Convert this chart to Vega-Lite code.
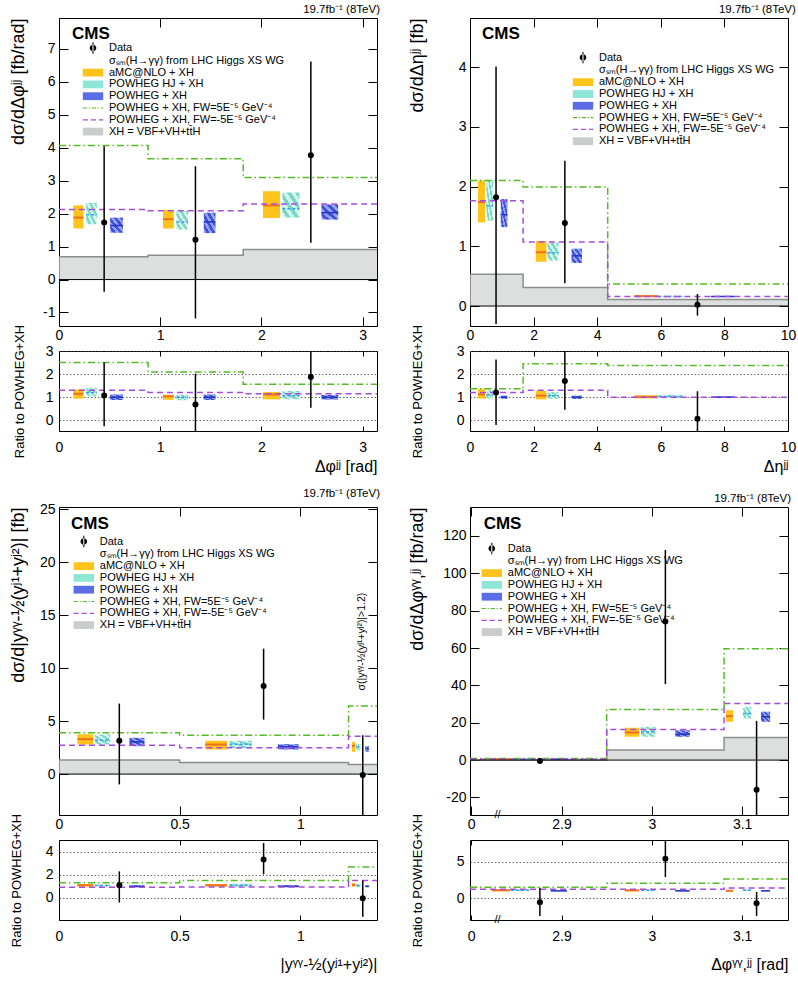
{
"$schema":"https://vega.github.io/schema/vega-lite/v6.json",
"padding":{"left":8,"top":3,"right":5,"bottom":3},
"params":[
 {"name":"ghj","value":{"gradient":"linear","x1":0,"y1":1,"x2":1,"y2":0,"stops":[{"offset":0,"color":"#d0f6ee"},{"offset":0.125,"color":"#d0f6ee"},{"offset":0.125,"color":"#7ad9c6"},{"offset":0.25,"color":"#7ad9c6"},{"offset":0.25,"color":"#d0f6ee"},{"offset":0.375,"color":"#d0f6ee"},{"offset":0.375,"color":"#7ad9c6"},{"offset":0.5,"color":"#7ad9c6"},{"offset":0.5,"color":"#d0f6ee"},{"offset":0.625,"color":"#d0f6ee"},{"offset":0.625,"color":"#7ad9c6"},{"offset":0.75,"color":"#7ad9c6"},{"offset":0.75,"color":"#d0f6ee"},{"offset":0.875,"color":"#d0f6ee"},{"offset":0.875,"color":"#7ad9c6"},{"offset":1,"color":"#7ad9c6"}]}},
 {"name":"gpw","value":{"gradient":"linear","x1":0,"y1":1,"x2":1,"y2":0,"stops":[{"offset":0,"color":"#93a2f2"},{"offset":0.125,"color":"#93a2f2"},{"offset":0.125,"color":"#3f52d9"},{"offset":0.25,"color":"#3f52d9"},{"offset":0.25,"color":"#93a2f2"},{"offset":0.375,"color":"#93a2f2"},{"offset":0.375,"color":"#3f52d9"},{"offset":0.5,"color":"#3f52d9"},{"offset":0.5,"color":"#93a2f2"},{"offset":0.625,"color":"#93a2f2"},{"offset":0.625,"color":"#3f52d9"},{"offset":0.75,"color":"#3f52d9"},{"offset":0.75,"color":"#93a2f2"},{"offset":0.875,"color":"#93a2f2"},{"offset":0.875,"color":"#3f52d9"},{"offset":1,"color":"#3f52d9"}]}}
],
"config":{
 "font":"Liberation Sans",
 "view":{"stroke":"#000","strokeWidth":1},
 "axis":{"domain":false,"ticks":false,"labelFont":"Liberation Sans","labelFontSize":14,"labelColor":"#000","titleFont":"Liberation Sans","titleFontSize":18,"titleFontWeight":"normal","titleColor":"#000","labelOverlap":false,"labelFlush":false,"labelBound":false},
 "title":{"font":"Liberation Sans","fontSize":11.5,"fontWeight":"normal","color":"#000","anchor":"end","offset":3},
 "legend":{"labelFont":"Liberation Sans","labelFontSize":11,"labelColor":"#000","symbolSize":144,"rowPadding":0.8,"labelOffset":10,"symbolStrokeWidth":0,"padding":0,"labelLimit":400,"symbolOpacity":1},
 "range":{"category":["#000000","rgba(0,0,0,0)","#ffc31a","#8fe6d6","#5a6ce6","#55bb22","#a64bdc","#c9cecc"],
  "symbol":["M-0.55,0A0.55,0.55,0,1,0,0.55,0A0.55,0.55,0,1,0,-0.55,0ZM-0.09,-0.95H0.09V0.95H-0.09Z","M-0.1,-0.1H0.1V0.1H-0.1Z","M-1.7,-0.65H1.7V0.65H-1.7Z","M-1.7,-0.65H1.7V0.65H-1.7Z","M-1.7,-0.65H1.7V0.65H-1.7Z","M-1.7,-0.1H-1V0.1H-1.7ZM-0.7,-0.1H-0.5V0.1H-0.7ZM-0.2,-0.1H0.5V0.1H-0.2ZM0.8,-0.1H1V0.1H0.8ZM1.3,-0.1H1.7V0.1H1.3Z","M-1.7,-0.1H-0.85V0.1H-1.7ZM-0.35,-0.1H0.5V0.1H-0.35ZM1,-0.1H1.7V0.1H1Z","M-1.7,-0.65H1.7V0.65H-1.7Z"]}
},
"datasets":{
 "steps":[
  {"p":"TL","s":"X","x":0,"y":0.69},{"p":"TL","s":"X","x":0.88,"y":0.74},{"p":"TL","s":"X","x":1.82,"y":0.91},{"p":"TL","s":"X","x":3.1416,"y":0.91},
  {"p":"TL","s":"G","x":0,"y":4.07},{"p":"TL","s":"G","x":0.88,"y":3.67},{"p":"TL","s":"G","x":1.82,"y":3.10},{"p":"TL","s":"G","x":3.1416,"y":3.10},
  {"p":"TL","s":"P","x":0,"y":2.13},{"p":"TL","s":"P","x":0.88,"y":2.09},{"p":"TL","s":"P","x":1.82,"y":2.29},{"p":"TL","s":"P","x":3.1416,"y":2.29},
  {"p":"TLr","s":"G","x":0,"y":2.50},{"p":"TLr","s":"G","x":0.88,"y":2.09},{"p":"TLr","s":"G","x":1.82,"y":1.56},{"p":"TLr","s":"G","x":3.1416,"y":1.56},
  {"p":"TLr","s":"P","x":0,"y":1.30},{"p":"TLr","s":"P","x":0.88,"y":1.21},{"p":"TLr","s":"P","x":1.82,"y":1.15},{"p":"TLr","s":"P","x":3.1416,"y":1.15},
  {"p":"TR","s":"X","x":0,"y":0.53},{"p":"TR","s":"X","x":1.67,"y":0.31},{"p":"TR","s":"X","x":4.33,"y":0.11},{"p":"TR","s":"X","x":10,"y":0.11},
  {"p":"TR","s":"G","x":0,"y":2.10},{"p":"TR","s":"G","x":1.67,"y":1.99},{"p":"TR","s":"G","x":4.33,"y":0.37},{"p":"TR","s":"G","x":10,"y":0.37},
  {"p":"TR","s":"P","x":0,"y":1.76},{"p":"TR","s":"P","x":1.67,"y":1.07},{"p":"TR","s":"P","x":4.33,"y":0.16},{"p":"TR","s":"P","x":10,"y":0.16},
  {"p":"TRr","s":"G","x":0,"y":1.37},{"p":"TRr","s":"G","x":1.67,"y":2.45},{"p":"TRr","s":"G","x":4.33,"y":2.37},{"p":"TRr","s":"G","x":10,"y":2.37},
  {"p":"TRr","s":"P","x":0,"y":1.20},{"p":"TRr","s":"P","x":1.67,"y":1.30},{"p":"TRr","s":"P","x":4.33,"y":1.00},{"p":"TRr","s":"P","x":10,"y":1.00},
  {"p":"BL","s":"X","x":0,"y":1.32},{"p":"BL","s":"X","x":0.5,"y":1.10},{"p":"BL","s":"X","x":1.2,"y":0.91},{"p":"BL","s":"X","x":1.318,"y":0.91},
  {"p":"BL","s":"G","x":0,"y":3.89},{"p":"BL","s":"G","x":0.5,"y":3.67},{"p":"BL","s":"G","x":1.2,"y":6.43},{"p":"BL","s":"G","x":1.318,"y":6.43},
  {"p":"BL","s":"P","x":0,"y":2.73},{"p":"BL","s":"P","x":0.5,"y":2.48},{"p":"BL","s":"P","x":1.2,"y":3.58},{"p":"BL","s":"P","x":1.318,"y":3.58},
  {"p":"BLr","s":"G","x":0,"y":1.31},{"p":"BLr","s":"G","x":0.5,"y":1.51},{"p":"BLr","s":"G","x":1.2,"y":2.66},{"p":"BLr","s":"G","x":1.318,"y":2.66},
  {"p":"BLr","s":"P","x":0,"y":0.91},{"p":"BLr","s":"P","x":0.5,"y":0.94},{"p":"BLr","s":"P","x":1.2,"y":1.51},{"p":"BLr","s":"P","x":1.318,"y":1.51},
  {"p":"BR","s":"X","x":2.7986,"y":0.1},{"p":"BR","s":"X","x":2.95,"y":5.35},{"p":"BR","s":"X","x":3.08,"y":12.1},{"p":"BR","s":"X","x":3.1508,"y":12.1},
  {"p":"BR","s":"G","x":2.7986,"y":0.9},{"p":"BR","s":"G","x":2.95,"y":27.1},{"p":"BR","s":"G","x":3.08,"y":59.6},{"p":"BR","s":"G","x":3.1508,"y":59.6},
  {"p":"BR","s":"P","x":2.7986,"y":0.5},{"p":"BR","s":"P","x":2.95,"y":16.4},{"p":"BR","s":"P","x":3.08,"y":30.3},{"p":"BR","s":"P","x":3.1508,"y":30.3},
  {"p":"BRr","s":"G","x":2.7986,"y":1.49},{"p":"BRr","s":"G","x":2.95,"y":2.03},{"p":"BRr","s":"G","x":3.08,"y":2.61},{"p":"BRr","s":"G","x":3.1508,"y":2.61},
  {"p":"BRr","s":"P","x":2.7986,"y":1.22},{"p":"BRr","s":"P","x":2.95,"y":1.22},{"p":"BRr","s":"P","x":3.08,"y":1.40},{"p":"BRr","s":"P","x":3.1508,"y":1.40}
 ],
 "boxes":[
  {"p":"TL","m":"a","x1":0.142,"x2":0.241,"lo":1.55,"c":1.88,"hi":2.25},{"p":"TL","m":"a","x1":1.027,"x2":1.133,"lo":1.55,"c":1.83,"hi":2.12},{"p":"TL","m":"a","x1":2.015,"x2":2.184,"lo":1.87,"c":2.25,"hi":2.68},
  {"p":"TL","m":"h","x1":0.268,"x2":0.373,"lo":1.68,"c":1.97,"hi":2.33},{"p":"TL","m":"h","x1":1.160,"x2":1.275,"lo":1.52,"c":1.75,"hi":2.08},{"p":"TL","m":"h","x1":2.207,"x2":2.375,"lo":1.88,"c":2.15,"hi":2.64},
  {"p":"TL","m":"w","x1":0.505,"x2":0.631,"lo":1.42,"c":1.64,"hi":1.88},{"p":"TL","m":"w","x1":1.430,"x2":1.546,"lo":1.41,"c":1.75,"hi":2.03},{"p":"TL","m":"w","x1":2.593,"x2":2.758,"lo":1.82,"c":2.03,"hi":2.28},
  {"p":"TLr","m":"a","x1":0.142,"x2":0.241,"lo":0.94,"c":1.15,"hi":1.34},{"p":"TLr","m":"a","x1":1.027,"x2":1.133,"lo":0.89,"c":1.04,"hi":1.11},{"p":"TLr","m":"a","x1":2.015,"x2":2.184,"lo":0.91,"c":1.12,"hi":1.23},
  {"p":"TLr","m":"h","x1":0.268,"x2":0.373,"lo":1.04,"c":1.20,"hi":1.41},{"p":"TLr","m":"h","x1":1.160,"x2":1.275,"lo":0.87,"c":1.00,"hi":1.11},{"p":"TLr","m":"h","x1":2.207,"x2":2.375,"lo":0.91,"c":1.06,"hi":1.27},
  {"p":"TLr","m":"w","x1":0.505,"x2":0.631,"lo":0.88,"c":1.0,"hi":1.12},{"p":"TLr","m":"w","x1":1.430,"x2":1.546,"lo":0.88,"c":1.0,"hi":1.12},{"p":"TLr","m":"w","x1":2.593,"x2":2.758,"lo":0.9,"c":1.0,"hi":1.1},
  {"p":"TR","m":"a","x1":0.252,"x2":0.473,"lo":1.40,"c":1.74,"hi":2.10},{"p":"TR","m":"a","x1":2.069,"x2":2.405,"lo":0.74,"c":0.90,"hi":1.09},{"p":"TR","m":"a","x1":5.168,"x2":5.903,"lo":0.15,"c":0.165,"hi":0.18},
  {"p":"TR","m":"h","x1":0.515,"x2":0.725,"lo":1.43,"c":1.68,"hi":2.10},{"p":"TR","m":"h","x1":2.437,"x2":2.784,"lo":0.76,"c":0.89,"hi":1.06},{"p":"TR","m":"h","x1":5.924,"x2":6.691,"lo":0.15,"c":0.16,"hi":0.17},
  {"p":"TR","m":"w","x1":0.966,"x2":1.176,"lo":1.32,"c":1.53,"hi":1.79},{"p":"TR","m":"w","x1":3.193,"x2":3.519,"lo":0.72,"c":0.84,"hi":0.96},{"p":"TR","m":"w","x1":7.584,"x2":8.319,"lo":0.15,"c":0.16,"hi":0.17},
  {"p":"TRr","m":"a","x1":0.252,"x2":0.473,"lo":0.94,"c":1.13,"hi":1.37},{"p":"TRr","m":"a","x1":2.069,"x2":2.405,"lo":0.91,"c":1.07,"hi":1.27},{"p":"TRr","m":"a","x1":5.168,"x2":5.903,"lo":0.95,"c":1.02,"hi":1.08},
  {"p":"TRr","m":"h","x1":0.515,"x2":0.725,"lo":0.95,"c":1.10,"hi":1.30},{"p":"TRr","m":"h","x1":2.437,"x2":2.784,"lo":0.93,"c":1.06,"hi":1.22},{"p":"TRr","m":"h","x1":5.924,"x2":6.691,"lo":0.97,"c":1.03,"hi":1.09},
  {"p":"TRr","m":"w","x1":0.966,"x2":1.176,"lo":0.93,"c":1.0,"hi":1.07},{"p":"TRr","m":"w","x1":3.193,"x2":3.519,"lo":0.93,"c":1.0,"hi":1.07},{"p":"TRr","m":"w","x1":7.584,"x2":8.319,"lo":0.97,"c":1.0,"hi":1.03},
  {"p":"BL","m":"a","x1":0.076,"x2":0.142,"lo":2.79,"c":3.29,"hi":3.76},{"p":"BL","m":"a","x1":0.606,"x2":0.696,"lo":2.32,"c":2.79,"hi":3.14},{"p":"BL","m":"a","x1":1.214,"x2":1.228,"lo":2.10,"c":2.67,"hi":3.04},
  {"p":"BL","m":"h","x1":0.149,"x2":0.212,"lo":2.79,"c":3.20,"hi":3.73},{"p":"BL","m":"h","x1":0.707,"x2":0.799,"lo":2.42,"c":2.82,"hi":3.14},{"p":"BL","m":"h","x1":1.232,"x2":1.249,"lo":2.25,"c":2.55,"hi":2.85},
  {"p":"BL","m":"w","x1":0.292,"x2":0.354,"lo":2.63,"c":3.04,"hi":3.42},{"p":"BL","m":"w","x1":0.907,"x2":0.993,"lo":2.32,"c":2.57,"hi":2.82},{"p":"BL","m":"w","x1":1.270,"x2":1.284,"lo":2.10,"c":2.40,"hi":2.65},
  {"p":"BLr","m":"a","x1":0.076,"x2":0.142,"lo":0.98,"c":1.09,"hi":1.2},{"p":"BLr","m":"a","x1":0.606,"x2":0.696,"lo":0.98,"c":1.09,"hi":1.2},{"p":"BLr","m":"a","x1":1.214,"x2":1.228,"lo":0.95,"c":1.12,"hi":1.28},
  {"p":"BLr","m":"h","x1":0.149,"x2":0.212,"lo":0.98,"c":1.06,"hi":1.15},{"p":"BLr","m":"h","x1":0.707,"x2":0.799,"lo":0.98,"c":1.10,"hi":1.22},{"p":"BLr","m":"h","x1":1.232,"x2":1.249,"lo":0.95,"c":1.06,"hi":1.2},
  {"p":"BLr","m":"w","x1":0.292,"x2":0.354,"lo":0.92,"c":1.0,"hi":1.08},{"p":"BLr","m":"w","x1":0.907,"x2":0.993,"lo":0.92,"c":1.0,"hi":1.08},{"p":"BLr","m":"w","x1":1.270,"x2":1.284,"lo":0.92,"c":1.0,"hi":1.08},
  {"p":"BR","m":"a","x1":2.823,"x2":2.843,"lo":0.2,"c":0.5,"hi":0.8},{"p":"BR","m":"a","x1":2.970,"x2":2.986,"lo":12.5,"c":14.8,"hi":17.3},{"p":"BR","m":"a","x1":3.082,"x2":3.090,"lo":20.5,"c":23.5,"hi":26.7},
  {"p":"BR","m":"h","x1":2.844,"x2":2.864,"lo":0.2,"c":0.5,"hi":0.8},{"p":"BR","m":"h","x1":2.988,"x2":3.004,"lo":12.5,"c":15.0,"hi":17.8},{"p":"BR","m":"h","x1":3.101,"x2":3.110,"lo":22.3,"c":25.0,"hi":28.5},
  {"p":"BR","m":"w","x1":2.888,"x2":2.906,"lo":0.2,"c":0.45,"hi":0.7},{"p":"BR","m":"w","x1":3.026,"x2":3.042,"lo":12.5,"c":13.9,"hi":16.0},{"p":"BR","m":"w","x1":3.121,"x2":3.131,"lo":20.5,"c":23.2,"hi":25.9},
  {"p":"BRr","m":"a","x1":2.823,"x2":2.843,"lo":0.95,"c":1.08,"hi":1.2},{"p":"BRr","m":"a","x1":2.970,"x2":2.986,"lo":0.95,"c":1.07,"hi":1.18},{"p":"BRr","m":"a","x1":3.082,"x2":3.090,"lo":0.9,"c":1.01,"hi":1.12},
  {"p":"BRr","m":"h","x1":2.844,"x2":2.864,"lo":0.98,"c":1.08,"hi":1.18},{"p":"BRr","m":"h","x1":2.988,"x2":3.004,"lo":0.96,"c":1.08,"hi":1.2},{"p":"BRr","m":"h","x1":3.101,"x2":3.110,"lo":1.0,"c":1.08,"hi":1.22},
  {"p":"BRr","m":"w","x1":2.888,"x2":2.906,"lo":0.95,"c":1.0,"hi":1.05},{"p":"BRr","m":"w","x1":3.026,"x2":3.042,"lo":0.95,"c":1.0,"hi":1.05},{"p":"BRr","m":"w","x1":3.121,"x2":3.131,"lo":0.95,"c":1.0,"hi":1.1}
 ],
 "pts":[
  {"p":"TL","x":0.446,"y":1.73,"lo":-0.37,"hi":4.05},{"p":"TL","x":1.348,"y":1.21,"lo":-1.18,"hi":3.44},{"p":"TL","x":2.488,"y":3.77,"lo":1.12,"hi":6.62},
  {"p":"TLr","x":0.446,"y":1.07,"lo":-0.25,"hi":2.50},{"p":"TLr","x":1.348,"y":0.69,"lo":-0.67,"hi":2.02},{"p":"TLr","x":2.488,"y":1.88,"lo":0.55,"hi":3.26},
  {"p":"TR","x":0.819,"y":1.82,"lo":-0.30,"hi":4.01},{"p":"TR","x":2.983,"y":1.39,"lo":0.38,"hi":2.43},{"p":"TR","x":7.153,"y":0.02,"lo":-0.16,"hi":0.20},
  {"p":"TRr","x":0.819,"y":1.20,"lo":-0.20,"hi":2.63},{"p":"TRr","x":2.983,"y":1.70,"lo":0.46,"hi":3.4},{"p":"TRr","x":7.153,"y":0.07,"lo":-1.0,"hi":1.26},
  {"p":"BL","x":0.25,"y":3.14,"lo":-0.97,"hi":6.65},{"p":"BL","x":0.848,"y":8.31,"lo":5.14,"hi":11.83},{"p":"BL","x":1.259,"y":-0.09,"lo":-5,"hi":3.67},
  {"p":"BLr","x":0.25,"y":1.09,"lo":-0.4,"hi":2.29},{"p":"BLr","x":0.848,"y":3.31,"lo":2.03,"hi":4.74},{"p":"BLr","x":1.259,"y":-0.03,"lo":-1.63,"hi":1.51},
  {"p":"BR","x":2.876,"y":-0.5,"lo":-2,"hi":1},{"p":"BR","x":3.015,"y":74.2,"lo":40.7,"hi":112.5},{"p":"BR","x":3.116,"y":-15.9,"lo":-45,"hi":21.0},
  {"p":"BRr","x":2.876,"y":-0.54,"lo":-2.43,"hi":1.44},{"p":"BRr","x":3.015,"y":5.36,"lo":2.88,"hi":9},{"p":"BRr","x":3.116,"y":-0.68,"lo":-2.43,"hi":0.86}
 ]
},
"resolve":{"scale":{"x":"independent","y":"independent","color":"independent","shape":"independent"}},
"spacing":12,
"vconcat":[
{"hconcat":[
{"vconcat":[
{"width":318,"height":308,"title":{"text":"19.7fb⁻¹ (8TeV)"},"resolve":{"axis":{"x":"independent","y":"independent"}},"layer":[
{"data":{"name":"boxes"},"transform":[{"filter":"datum.p=='TL'&&datum.m=='a'"}],"mark":{"type":"rect","color":"#ffc31a"},"encoding":{"x":{"field":"x1","type":"quantitative","scale":{"domain":[0,3.1416],"nice":false,"zero":false},"axis":{"orient":"bottom","values":[0,1,2,3],"labelExpr":"''+datum.value","labelPadding":2.5,"title":null,"grid":true,"gridColor":"#000","gridWidth":1,"gridDash":[9,290,9]}},"x2":{"field":"x2"},"y":{"field":"lo","type":"quantitative","scale":{"domain":[-1.41,7.94],"nice":false,"zero":false},"axis":{"orient":"left","values":[-1,0,1,2,3,4,5,6,7],"labelExpr":"''+datum.value","labelPadding":4,"title":"dσ/dΔφʲʲ [fb/rad]","titleAnchor":"end","titleX":-32,"grid":true,"gridColor":"#000","gridWidth":1,"gridDash":[9,300,9]}},"y2":{"field":"hi"}}},
{"data":{"name":"steps"},"transform":[{"filter":"datum.p=='TL'&&datum.s=='X'"}],"mark":{"type":"area","interpolate":"step-after","color":"#cdd2d0","line":{"color":"#8a8f8d","strokeWidth":1.5}},"encoding":{"x":{"field":"x","type":"quantitative","scale":{"domain":[0,3.1416],"nice":false,"zero":false},"axis":null},"y":{"field":"y","type":"quantitative","scale":{"domain":[-1.41,7.94],"nice":false,"zero":false},"axis":null},"y2":{"datum":0}}},
{"data":{"name":"boxes"},"transform":[{"filter":"datum.p=='TL'&&datum.m=='a'"}],"mark":{"type":"rule","color":"#f0701e","strokeWidth":2},"encoding":{"x":{"field":"x1","type":"quantitative","scale":{"domain":[0,3.1416],"nice":false,"zero":false},"axis":null},"x2":{"field":"x2"},"y":{"field":"c","type":"quantitative","scale":{"domain":[-1.41,7.94],"nice":false,"zero":false},"axis":null}}},
{"data":{"name":"boxes"},"transform":[{"filter":"datum.p=='TL'&&datum.m=='h'"}],"mark":{"type":"rect","fill":{"expr":"ghj"}},"encoding":{"x":{"field":"x1","type":"quantitative","scale":{"domain":[0,3.1416],"nice":false,"zero":false},"axis":null},"x2":{"field":"x2"},"y":{"field":"lo","type":"quantitative","scale":{"domain":[-1.41,7.94],"nice":false,"zero":false},"axis":null},"y2":{"field":"hi"}}},
{"data":{"name":"boxes"},"transform":[{"filter":"datum.p=='TL'&&datum.m=='h'"}],"mark":{"type":"rule","color":"#3aa0e6","strokeWidth":1.5,"strokeDash":[3,2]},"encoding":{"x":{"field":"x1","type":"quantitative","scale":{"domain":[0,3.1416],"nice":false,"zero":false},"axis":null},"x2":{"field":"x2"},"y":{"field":"c","type":"quantitative","scale":{"domain":[-1.41,7.94],"nice":false,"zero":false},"axis":null}}},
{"data":{"name":"boxes"},"transform":[{"filter":"datum.p=='TL'&&datum.m=='w'"}],"mark":{"type":"rect","fill":{"expr":"gpw"}},"encoding":{"x":{"field":"x1","type":"quantitative","scale":{"domain":[0,3.1416],"nice":false,"zero":false},"axis":null},"x2":{"field":"x2"},"y":{"field":"lo","type":"quantitative","scale":{"domain":[-1.41,7.94],"nice":false,"zero":false},"axis":null},"y2":{"field":"hi"}}},
{"data":{"name":"boxes"},"transform":[{"filter":"datum.p=='TL'&&datum.m=='w'"}],"mark":{"type":"rule","color":"#1f35c8","strokeWidth":1.5},"encoding":{"x":{"field":"x1","type":"quantitative","scale":{"domain":[0,3.1416],"nice":false,"zero":false},"axis":null},"x2":{"field":"x2"},"y":{"field":"c","type":"quantitative","scale":{"domain":[-1.41,7.94],"nice":false,"zero":false},"axis":null}}},
{"data":{"name":"steps"},"transform":[{"filter":"datum.p=='TL'&&datum.s=='G'"}],"mark":{"type":"line","interpolate":"step-after","color":"#55bb22","strokeWidth":1.5,"strokeDash":[7,3,1.5,3]},"encoding":{"x":{"field":"x","type":"quantitative","scale":{"domain":[0,3.1416],"nice":false,"zero":false},"axis":null},"y":{"field":"y","type":"quantitative","scale":{"domain":[-1.41,7.94],"nice":false,"zero":false},"axis":null}}},
{"data":{"name":"steps"},"transform":[{"filter":"datum.p=='TL'&&datum.s=='P'"}],"mark":{"type":"line","interpolate":"step-after","color":"#a64bdc","strokeWidth":1.5,"strokeDash":[6,4]},"encoding":{"x":{"field":"x","type":"quantitative","scale":{"domain":[0,3.1416],"nice":false,"zero":false},"axis":null},"y":{"field":"y","type":"quantitative","scale":{"domain":[-1.41,7.94],"nice":false,"zero":false},"axis":null}}},
{"data":{"values":[{}]},"mark":{"type":"rule","color":"#000","strokeWidth":1},"encoding":{"y":{"datum":0,"type":"quantitative","scale":{"domain":[-1.41,7.94],"nice":false,"zero":false},"axis":null}}},
{"data":{"name":"pts"},"transform":[{"filter":"datum.p=='TL'"}],"mark":{"type":"rule","color":"#000","strokeWidth":1.5,"clip":true},"encoding":{"x":{"field":"x","type":"quantitative","scale":{"domain":[0,3.1416],"nice":false,"zero":false},"axis":null},"y":{"field":"lo","type":"quantitative","scale":{"domain":[-1.41,7.94],"nice":false,"zero":false},"axis":null},"y2":{"field":"hi"}}},
{"data":{"name":"pts"},"transform":[{"filter":"datum.p=='TL'"}],"mark":{"type":"point","filled":true,"color":"#000","opacity":1,"size":36,"clip":true},"encoding":{"x":{"field":"x","type":"quantitative","scale":{"domain":[0,3.1416],"nice":false,"zero":false},"axis":null},"y":{"field":"y","type":"quantitative","scale":{"domain":[-1.41,7.94],"nice":false,"zero":false},"axis":null}}},
{"data":{"name":"pts"},"transform":[{"filter":"false"}],"mark":{"type":"point","filled":true,"opacity":1},"encoding":{"x":{"field":"x","type":"quantitative","scale":{"domain":[0,3.1416],"nice":false,"zero":false},"axis":null},"y":{"field":"y","type":"quantitative","scale":{"domain":[-1.41,7.94],"nice":false,"zero":false},"axis":null},"color":{"field":"p","type":"nominal","scale":{"domain":["Data","σₛₘ(H→γγ) from LHC Higgs XS WG","aMC@NLO + XH","POWHEG HJ + XH","POWHEG + XH","POWHEG + XH, FW=5E⁻⁵ GeV⁻⁴","POWHEG + XH, FW=-5E⁻⁵ GeV⁻⁴","XH = VBF+VH+tt̄H"]},"legend":{"orient":"none","legendX":28,"legendY":24,"title":null}},"shape":{"field":"p","type":"nominal","scale":{"domain":["Data","σₛₘ(H→γγ) from LHC Higgs XS WG","aMC@NLO + XH","POWHEG HJ + XH","POWHEG + XH","POWHEG + XH, FW=5E⁻⁵ GeV⁻⁴","POWHEG + XH, FW=-5E⁻⁵ GeV⁻⁴","XH = VBF+VH+tt̄H"]},"legend":{"orient":"none","legendX":28,"legendY":24,"title":null}}}},
{"data":{"values":[{"t":"CMS"}]},"mark":{"type":"text","align":"left","baseline":"middle","fontSize":17,"fontWeight":"bold","font":"Liberation Sans"},"encoding":{"x":{"datum":0.129,"type":"quantitative","scale":{"domain":[0,3.1416],"nice":false,"zero":false},"axis":null},"y":{"datum":7.46,"type":"quantitative","scale":{"domain":[-1.41,7.94],"nice":false,"zero":false},"axis":null},"text":{"field":"t"}}}
]},
{"width":318,"height":80,"resolve":{"axis":{"x":"independent","y":"independent"}},"layer":[
{"data":{"name":"boxes"},"transform":[{"filter":"datum.p=='TLr'&&datum.m=='a'"}],"mark":{"type":"rect","color":"#ffc31a"},"encoding":{"x":{"field":"x1","type":"quantitative","scale":{"domain":[0,3.1416],"nice":false,"zero":false},"axis":{"orient":"bottom","values":[0,1,2,3],"labelExpr":"''+datum.value","labelPadding":9,"title":"Δφʲʲ [rad]","titleFontSize":16,"titleAnchor":"end","titleY":27,"grid":true,"gridColor":"#000","gridWidth":1,"gridDash":[5,70,5]}},"x2":{"field":"x2"},"y":{"field":"lo","type":"quantitative","scale":{"domain":[-0.46,3],"nice":false,"zero":false},"axis":{"orient":"left","values":[0,1,2,3],"labelExpr":"''+datum.value","labelPadding":6,"title":"Ratio to POWHEG+XH","titleFontSize":13,"titleX":-33,"grid":true,"gridDash":[1.5,2],"gridColor":"#444","gridWidth":0.8}},"y2":{"field":"hi"}}},
{"data":{"name":"boxes"},"transform":[{"filter":"datum.p=='TLr'&&datum.m=='a'"}],"mark":{"type":"rule","color":"#f0701e","strokeWidth":2},"encoding":{"x":{"field":"x1","type":"quantitative","scale":{"domain":[0,3.1416],"nice":false,"zero":false},"axis":null},"x2":{"field":"x2"},"y":{"field":"c","type":"quantitative","scale":{"domain":[-0.46,3],"nice":false,"zero":false},"axis":null}}},
{"data":{"name":"boxes"},"transform":[{"filter":"datum.p=='TLr'&&datum.m=='h'"}],"mark":{"type":"rect","fill":{"expr":"ghj"}},"encoding":{"x":{"field":"x1","type":"quantitative","scale":{"domain":[0,3.1416],"nice":false,"zero":false},"axis":null},"x2":{"field":"x2"},"y":{"field":"lo","type":"quantitative","scale":{"domain":[-0.46,3],"nice":false,"zero":false},"axis":null},"y2":{"field":"hi"}}},
{"data":{"name":"boxes"},"transform":[{"filter":"datum.p=='TLr'&&datum.m=='h'"}],"mark":{"type":"rule","color":"#3aa0e6","strokeWidth":1.5,"strokeDash":[3,2]},"encoding":{"x":{"field":"x1","type":"quantitative","scale":{"domain":[0,3.1416],"nice":false,"zero":false},"axis":null},"x2":{"field":"x2"},"y":{"field":"c","type":"quantitative","scale":{"domain":[-0.46,3],"nice":false,"zero":false},"axis":null}}},
{"data":{"name":"boxes"},"transform":[{"filter":"datum.p=='TLr'&&datum.m=='w'"}],"mark":{"type":"rect","fill":{"expr":"gpw"}},"encoding":{"x":{"field":"x1","type":"quantitative","scale":{"domain":[0,3.1416],"nice":false,"zero":false},"axis":null},"x2":{"field":"x2"},"y":{"field":"lo","type":"quantitative","scale":{"domain":[-0.46,3],"nice":false,"zero":false},"axis":null},"y2":{"field":"hi"}}},
{"data":{"name":"boxes"},"transform":[{"filter":"datum.p=='TLr'&&datum.m=='w'"}],"mark":{"type":"rule","color":"#1f35c8","strokeWidth":1.5},"encoding":{"x":{"field":"x1","type":"quantitative","scale":{"domain":[0,3.1416],"nice":false,"zero":false},"axis":null},"x2":{"field":"x2"},"y":{"field":"c","type":"quantitative","scale":{"domain":[-0.46,3],"nice":false,"zero":false},"axis":null}}},
{"data":{"name":"steps"},"transform":[{"filter":"datum.p=='TLr'&&datum.s=='G'"}],"mark":{"type":"line","interpolate":"step-after","color":"#55bb22","strokeWidth":1.5,"strokeDash":[7,3,1.5,3]},"encoding":{"x":{"field":"x","type":"quantitative","scale":{"domain":[0,3.1416],"nice":false,"zero":false},"axis":null},"y":{"field":"y","type":"quantitative","scale":{"domain":[-0.46,3],"nice":false,"zero":false},"axis":null}}},
{"data":{"name":"steps"},"transform":[{"filter":"datum.p=='TLr'&&datum.s=='P'"}],"mark":{"type":"line","interpolate":"step-after","color":"#a64bdc","strokeWidth":1.5,"strokeDash":[6,4]},"encoding":{"x":{"field":"x","type":"quantitative","scale":{"domain":[0,3.1416],"nice":false,"zero":false},"axis":null},"y":{"field":"y","type":"quantitative","scale":{"domain":[-0.46,3],"nice":false,"zero":false},"axis":null}}},
{"data":{"name":"pts"},"transform":[{"filter":"datum.p=='TLr'"}],"mark":{"type":"rule","color":"#000","strokeWidth":1.5,"clip":true},"encoding":{"x":{"field":"x","type":"quantitative","scale":{"domain":[0,3.1416],"nice":false,"zero":false},"axis":null},"y":{"field":"lo","type":"quantitative","scale":{"domain":[-0.46,3],"nice":false,"zero":false},"axis":null},"y2":{"field":"hi"}}},
{"data":{"name":"pts"},"transform":[{"filter":"datum.p=='TLr'"}],"mark":{"type":"point","filled":true,"color":"#000","opacity":1,"size":36,"clip":true},"encoding":{"x":{"field":"x","type":"quantitative","scale":{"domain":[0,3.1416],"nice":false,"zero":false},"axis":null},"y":{"field":"y","type":"quantitative","scale":{"domain":[-0.46,3],"nice":false,"zero":false},"axis":null}}}
]}
],"spacing":25,"bounds":"flush","resolve":{"scale":{"x":"independent","y":"independent","color":"independent","shape":"independent"}}},
{"vconcat":[
{"width":318,"height":308,"title":{"text":"19.7fb⁻¹ (8TeV)"},"resolve":{"axis":{"x":"independent","y":"independent"}},"layer":[
{"data":{"name":"boxes"},"transform":[{"filter":"datum.p=='TR'&&datum.m=='a'"}],"mark":{"type":"rect","color":"#ffc31a"},"encoding":{"x":{"field":"x1","type":"quantitative","scale":{"domain":[0,10],"nice":false,"zero":false},"axis":{"orient":"bottom","values":[0,2,4,6,8,10],"labelExpr":"''+datum.value","labelPadding":2.5,"title":null,"grid":true,"gridColor":"#000","gridWidth":1,"gridDash":[9,290,9]}},"x2":{"field":"x2"},"y":{"field":"lo","type":"quantitative","scale":{"domain":[-0.334,4.82],"nice":false,"zero":false},"axis":{"orient":"left","values":[0,1,2,3,4],"labelExpr":"''+datum.value","labelPadding":4,"title":"dσ/dΔηʲʲ [fb]","titleAnchor":"end","titleX":-44,"grid":true,"gridColor":"#000","gridWidth":1,"gridDash":[9,300,9]}},"y2":{"field":"hi"}}},
{"data":{"name":"steps"},"transform":[{"filter":"datum.p=='TR'&&datum.s=='X'"}],"mark":{"type":"area","interpolate":"step-after","color":"#cdd2d0","line":{"color":"#8a8f8d","strokeWidth":1.5}},"encoding":{"x":{"field":"x","type":"quantitative","scale":{"domain":[0,10],"nice":false,"zero":false},"axis":null},"y":{"field":"y","type":"quantitative","scale":{"domain":[-0.334,4.82],"nice":false,"zero":false},"axis":null},"y2":{"datum":0}}},
{"data":{"name":"boxes"},"transform":[{"filter":"datum.p=='TR'&&datum.m=='a'"}],"mark":{"type":"rule","color":"#f0701e","strokeWidth":2},"encoding":{"x":{"field":"x1","type":"quantitative","scale":{"domain":[0,10],"nice":false,"zero":false},"axis":null},"x2":{"field":"x2"},"y":{"field":"c","type":"quantitative","scale":{"domain":[-0.334,4.82],"nice":false,"zero":false},"axis":null}}},
{"data":{"name":"boxes"},"transform":[{"filter":"datum.p=='TR'&&datum.m=='h'"}],"mark":{"type":"rect","fill":{"expr":"ghj"}},"encoding":{"x":{"field":"x1","type":"quantitative","scale":{"domain":[0,10],"nice":false,"zero":false},"axis":null},"x2":{"field":"x2"},"y":{"field":"lo","type":"quantitative","scale":{"domain":[-0.334,4.82],"nice":false,"zero":false},"axis":null},"y2":{"field":"hi"}}},
{"data":{"name":"boxes"},"transform":[{"filter":"datum.p=='TR'&&datum.m=='h'"}],"mark":{"type":"rule","color":"#3aa0e6","strokeWidth":1.5,"strokeDash":[3,2]},"encoding":{"x":{"field":"x1","type":"quantitative","scale":{"domain":[0,10],"nice":false,"zero":false},"axis":null},"x2":{"field":"x2"},"y":{"field":"c","type":"quantitative","scale":{"domain":[-0.334,4.82],"nice":false,"zero":false},"axis":null}}},
{"data":{"name":"boxes"},"transform":[{"filter":"datum.p=='TR'&&datum.m=='w'"}],"mark":{"type":"rect","fill":{"expr":"gpw"}},"encoding":{"x":{"field":"x1","type":"quantitative","scale":{"domain":[0,10],"nice":false,"zero":false},"axis":null},"x2":{"field":"x2"},"y":{"field":"lo","type":"quantitative","scale":{"domain":[-0.334,4.82],"nice":false,"zero":false},"axis":null},"y2":{"field":"hi"}}},
{"data":{"name":"boxes"},"transform":[{"filter":"datum.p=='TR'&&datum.m=='w'"}],"mark":{"type":"rule","color":"#1f35c8","strokeWidth":1.5},"encoding":{"x":{"field":"x1","type":"quantitative","scale":{"domain":[0,10],"nice":false,"zero":false},"axis":null},"x2":{"field":"x2"},"y":{"field":"c","type":"quantitative","scale":{"domain":[-0.334,4.82],"nice":false,"zero":false},"axis":null}}},
{"data":{"name":"steps"},"transform":[{"filter":"datum.p=='TR'&&datum.s=='G'"}],"mark":{"type":"line","interpolate":"step-after","color":"#55bb22","strokeWidth":1.5,"strokeDash":[7,3,1.5,3]},"encoding":{"x":{"field":"x","type":"quantitative","scale":{"domain":[0,10],"nice":false,"zero":false},"axis":null},"y":{"field":"y","type":"quantitative","scale":{"domain":[-0.334,4.82],"nice":false,"zero":false},"axis":null}}},
{"data":{"name":"steps"},"transform":[{"filter":"datum.p=='TR'&&datum.s=='P'"}],"mark":{"type":"line","interpolate":"step-after","color":"#a64bdc","strokeWidth":1.5,"strokeDash":[6,4]},"encoding":{"x":{"field":"x","type":"quantitative","scale":{"domain":[0,10],"nice":false,"zero":false},"axis":null},"y":{"field":"y","type":"quantitative","scale":{"domain":[-0.334,4.82],"nice":false,"zero":false},"axis":null}}},
{"data":{"values":[{}]},"mark":{"type":"rule","color":"#000","strokeWidth":1},"encoding":{"y":{"datum":0,"type":"quantitative","scale":{"domain":[-0.334,4.82],"nice":false,"zero":false},"axis":null}}},
{"data":{"name":"pts"},"transform":[{"filter":"datum.p=='TR'"}],"mark":{"type":"rule","color":"#000","strokeWidth":1.5,"clip":true},"encoding":{"x":{"field":"x","type":"quantitative","scale":{"domain":[0,10],"nice":false,"zero":false},"axis":null},"y":{"field":"lo","type":"quantitative","scale":{"domain":[-0.334,4.82],"nice":false,"zero":false},"axis":null},"y2":{"field":"hi"}}},
{"data":{"name":"pts"},"transform":[{"filter":"datum.p=='TR'"}],"mark":{"type":"point","filled":true,"color":"#000","opacity":1,"size":36,"clip":true},"encoding":{"x":{"field":"x","type":"quantitative","scale":{"domain":[0,10],"nice":false,"zero":false},"axis":null},"y":{"field":"y","type":"quantitative","scale":{"domain":[-0.334,4.82],"nice":false,"zero":false},"axis":null}}},
{"data":{"name":"pts"},"transform":[{"filter":"false"}],"mark":{"type":"point","filled":true,"opacity":1},"encoding":{"x":{"field":"x","type":"quantitative","scale":{"domain":[0,10],"nice":false,"zero":false},"axis":null},"y":{"field":"y","type":"quantitative","scale":{"domain":[-0.334,4.82],"nice":false,"zero":false},"axis":null},"color":{"field":"p","type":"nominal","scale":{"domain":["Data","σₛₘ(H→γγ) from LHC Higgs XS WG","aMC@NLO + XH","POWHEG HJ + XH","POWHEG + XH","POWHEG + XH, FW=5E⁻⁵ GeV⁻⁴","POWHEG + XH, FW=-5E⁻⁵ GeV⁻⁴","XH = VBF+VH+tt̄H"]},"legend":{"orient":"none","legendX":107,"legendY":33.6,"title":null}},"shape":{"field":"p","type":"nominal","scale":{"domain":["Data","σₛₘ(H→γγ) from LHC Higgs XS WG","aMC@NLO + XH","POWHEG HJ + XH","POWHEG + XH","POWHEG + XH, FW=5E⁻⁵ GeV⁻⁴","POWHEG + XH, FW=-5E⁻⁵ GeV⁻⁴","XH = VBF+VH+tt̄H"]},"legend":{"orient":"none","legendX":107,"legendY":33.6,"title":null}}}},
{"data":{"values":[{"t":"CMS"}]},"mark":{"type":"text","align":"left","baseline":"middle","fontSize":17,"fontWeight":"bold","font":"Liberation Sans"},"encoding":{"x":{"datum":0.38,"type":"quantitative","scale":{"domain":[0,10],"nice":false,"zero":false},"axis":null},"y":{"datum":4.55,"type":"quantitative","scale":{"domain":[-0.334,4.82],"nice":false,"zero":false},"axis":null},"text":{"field":"t"}}}
]},
{"width":318,"height":80,"resolve":{"axis":{"x":"independent","y":"independent"}},"layer":[
{"data":{"name":"boxes"},"transform":[{"filter":"datum.p=='TRr'&&datum.m=='a'"}],"mark":{"type":"rect","color":"#ffc31a"},"encoding":{"x":{"field":"x1","type":"quantitative","scale":{"domain":[0,10],"nice":false,"zero":false},"axis":{"orient":"bottom","values":[0,2,4,6,8,10],"labelExpr":"''+datum.value","labelPadding":9,"title":"Δηʲʲ","titleFontSize":16,"titleAnchor":"end","titleY":27,"grid":true,"gridColor":"#000","gridWidth":1,"gridDash":[5,70,5]}},"x2":{"field":"x2"},"y":{"field":"lo","type":"quantitative","scale":{"domain":[-0.46,3],"nice":false,"zero":false},"axis":{"orient":"left","values":[0,1,2,3],"labelExpr":"''+datum.value","labelPadding":6,"title":"Ratio to POWHEG+XH","titleFontSize":13,"titleX":-46,"grid":true,"gridDash":[1.5,2],"gridColor":"#444","gridWidth":0.8}},"y2":{"field":"hi"}}},
{"data":{"name":"boxes"},"transform":[{"filter":"datum.p=='TRr'&&datum.m=='a'"}],"mark":{"type":"rule","color":"#f0701e","strokeWidth":2},"encoding":{"x":{"field":"x1","type":"quantitative","scale":{"domain":[0,10],"nice":false,"zero":false},"axis":null},"x2":{"field":"x2"},"y":{"field":"c","type":"quantitative","scale":{"domain":[-0.46,3],"nice":false,"zero":false},"axis":null}}},
{"data":{"name":"boxes"},"transform":[{"filter":"datum.p=='TRr'&&datum.m=='h'"}],"mark":{"type":"rect","fill":{"expr":"ghj"}},"encoding":{"x":{"field":"x1","type":"quantitative","scale":{"domain":[0,10],"nice":false,"zero":false},"axis":null},"x2":{"field":"x2"},"y":{"field":"lo","type":"quantitative","scale":{"domain":[-0.46,3],"nice":false,"zero":false},"axis":null},"y2":{"field":"hi"}}},
{"data":{"name":"boxes"},"transform":[{"filter":"datum.p=='TRr'&&datum.m=='h'"}],"mark":{"type":"rule","color":"#3aa0e6","strokeWidth":1.5,"strokeDash":[3,2]},"encoding":{"x":{"field":"x1","type":"quantitative","scale":{"domain":[0,10],"nice":false,"zero":false},"axis":null},"x2":{"field":"x2"},"y":{"field":"c","type":"quantitative","scale":{"domain":[-0.46,3],"nice":false,"zero":false},"axis":null}}},
{"data":{"name":"boxes"},"transform":[{"filter":"datum.p=='TRr'&&datum.m=='w'"}],"mark":{"type":"rect","fill":{"expr":"gpw"}},"encoding":{"x":{"field":"x1","type":"quantitative","scale":{"domain":[0,10],"nice":false,"zero":false},"axis":null},"x2":{"field":"x2"},"y":{"field":"lo","type":"quantitative","scale":{"domain":[-0.46,3],"nice":false,"zero":false},"axis":null},"y2":{"field":"hi"}}},
{"data":{"name":"boxes"},"transform":[{"filter":"datum.p=='TRr'&&datum.m=='w'"}],"mark":{"type":"rule","color":"#1f35c8","strokeWidth":1.5},"encoding":{"x":{"field":"x1","type":"quantitative","scale":{"domain":[0,10],"nice":false,"zero":false},"axis":null},"x2":{"field":"x2"},"y":{"field":"c","type":"quantitative","scale":{"domain":[-0.46,3],"nice":false,"zero":false},"axis":null}}},
{"data":{"name":"steps"},"transform":[{"filter":"datum.p=='TRr'&&datum.s=='G'"}],"mark":{"type":"line","interpolate":"step-after","color":"#55bb22","strokeWidth":1.5,"strokeDash":[7,3,1.5,3]},"encoding":{"x":{"field":"x","type":"quantitative","scale":{"domain":[0,10],"nice":false,"zero":false},"axis":null},"y":{"field":"y","type":"quantitative","scale":{"domain":[-0.46,3],"nice":false,"zero":false},"axis":null}}},
{"data":{"name":"steps"},"transform":[{"filter":"datum.p=='TRr'&&datum.s=='P'"}],"mark":{"type":"line","interpolate":"step-after","color":"#a64bdc","strokeWidth":1.5,"strokeDash":[6,4]},"encoding":{"x":{"field":"x","type":"quantitative","scale":{"domain":[0,10],"nice":false,"zero":false},"axis":null},"y":{"field":"y","type":"quantitative","scale":{"domain":[-0.46,3],"nice":false,"zero":false},"axis":null}}},
{"data":{"name":"pts"},"transform":[{"filter":"datum.p=='TRr'"}],"mark":{"type":"rule","color":"#000","strokeWidth":1.5,"clip":true},"encoding":{"x":{"field":"x","type":"quantitative","scale":{"domain":[0,10],"nice":false,"zero":false},"axis":null},"y":{"field":"lo","type":"quantitative","scale":{"domain":[-0.46,3],"nice":false,"zero":false},"axis":null},"y2":{"field":"hi"}}},
{"data":{"name":"pts"},"transform":[{"filter":"datum.p=='TRr'"}],"mark":{"type":"point","filled":true,"color":"#000","opacity":1,"size":36,"clip":true},"encoding":{"x":{"field":"x","type":"quantitative","scale":{"domain":[0,10],"nice":false,"zero":false},"axis":null},"y":{"field":"y","type":"quantitative","scale":{"domain":[-0.46,3],"nice":false,"zero":false},"axis":null}}}
]}
],"spacing":25,"bounds":"flush","resolve":{"scale":{"x":"independent","y":"independent","color":"independent","shape":"independent"}}}
],"spacing":26,"resolve":{"scale":{"x":"independent","y":"independent","color":"independent","shape":"independent"}}},
{"hconcat":[
{"vconcat":[
{"width":318,"height":308,"title":{"text":"19.7fb⁻¹ (8TeV)"},"resolve":{"axis":{"x":"independent","y":"independent"}},"layer":[
{"data":{"name":"boxes"},"transform":[{"filter":"datum.p=='BL'&&datum.m=='a'"}],"mark":{"type":"rect","color":"#ffc31a"},"encoding":{"x":{"field":"x1","type":"quantitative","scale":{"domain":[0,1.318],"nice":false,"zero":false},"axis":{"orient":"bottom","values":[0,0.5,1],"labelExpr":"''+datum.value","labelPadding":2.5,"title":null,"grid":true,"gridColor":"#000","gridWidth":1,"gridDash":[9,290,9]}},"x2":{"field":"x2"},"y":{"field":"lo","type":"quantitative","scale":{"domain":[-3.86,25.2],"nice":false,"zero":false},"axis":{"orient":"left","values":[0,5,10,15,20,25],"labelExpr":"''+datum.value","labelPadding":4,"title":"dσ/d|yᵞᵞ-½(yʲ¹+yʲ²)| [fb]","titleAnchor":"end","titleX":-32,"grid":true,"gridColor":"#000","gridWidth":1,"gridDash":[9,300,9]}},"y2":{"field":"hi"}}},
{"data":{"name":"steps"},"transform":[{"filter":"datum.p=='BL'&&datum.s=='X'"}],"mark":{"type":"area","interpolate":"step-after","color":"#cdd2d0","line":{"color":"#8a8f8d","strokeWidth":1.5}},"encoding":{"x":{"field":"x","type":"quantitative","scale":{"domain":[0,1.318],"nice":false,"zero":false},"axis":null},"y":{"field":"y","type":"quantitative","scale":{"domain":[-3.86,25.2],"nice":false,"zero":false},"axis":null},"y2":{"datum":0}}},
{"data":{"name":"boxes"},"transform":[{"filter":"datum.p=='BL'&&datum.m=='a'"}],"mark":{"type":"rule","color":"#f0701e","strokeWidth":2},"encoding":{"x":{"field":"x1","type":"quantitative","scale":{"domain":[0,1.318],"nice":false,"zero":false},"axis":null},"x2":{"field":"x2"},"y":{"field":"c","type":"quantitative","scale":{"domain":[-3.86,25.2],"nice":false,"zero":false},"axis":null}}},
{"data":{"name":"boxes"},"transform":[{"filter":"datum.p=='BL'&&datum.m=='h'"}],"mark":{"type":"rect","fill":{"expr":"ghj"}},"encoding":{"x":{"field":"x1","type":"quantitative","scale":{"domain":[0,1.318],"nice":false,"zero":false},"axis":null},"x2":{"field":"x2"},"y":{"field":"lo","type":"quantitative","scale":{"domain":[-3.86,25.2],"nice":false,"zero":false},"axis":null},"y2":{"field":"hi"}}},
{"data":{"name":"boxes"},"transform":[{"filter":"datum.p=='BL'&&datum.m=='h'"}],"mark":{"type":"rule","color":"#3aa0e6","strokeWidth":1.5,"strokeDash":[3,2]},"encoding":{"x":{"field":"x1","type":"quantitative","scale":{"domain":[0,1.318],"nice":false,"zero":false},"axis":null},"x2":{"field":"x2"},"y":{"field":"c","type":"quantitative","scale":{"domain":[-3.86,25.2],"nice":false,"zero":false},"axis":null}}},
{"data":{"name":"boxes"},"transform":[{"filter":"datum.p=='BL'&&datum.m=='w'"}],"mark":{"type":"rect","fill":{"expr":"gpw"}},"encoding":{"x":{"field":"x1","type":"quantitative","scale":{"domain":[0,1.318],"nice":false,"zero":false},"axis":null},"x2":{"field":"x2"},"y":{"field":"lo","type":"quantitative","scale":{"domain":[-3.86,25.2],"nice":false,"zero":false},"axis":null},"y2":{"field":"hi"}}},
{"data":{"name":"boxes"},"transform":[{"filter":"datum.p=='BL'&&datum.m=='w'"}],"mark":{"type":"rule","color":"#1f35c8","strokeWidth":1.5},"encoding":{"x":{"field":"x1","type":"quantitative","scale":{"domain":[0,1.318],"nice":false,"zero":false},"axis":null},"x2":{"field":"x2"},"y":{"field":"c","type":"quantitative","scale":{"domain":[-3.86,25.2],"nice":false,"zero":false},"axis":null}}},
{"data":{"name":"steps"},"transform":[{"filter":"datum.p=='BL'&&datum.s=='G'"}],"mark":{"type":"line","interpolate":"step-after","color":"#55bb22","strokeWidth":1.5,"strokeDash":[7,3,1.5,3]},"encoding":{"x":{"field":"x","type":"quantitative","scale":{"domain":[0,1.318],"nice":false,"zero":false},"axis":null},"y":{"field":"y","type":"quantitative","scale":{"domain":[-3.86,25.2],"nice":false,"zero":false},"axis":null}}},
{"data":{"name":"steps"},"transform":[{"filter":"datum.p=='BL'&&datum.s=='P'"}],"mark":{"type":"line","interpolate":"step-after","color":"#a64bdc","strokeWidth":1.5,"strokeDash":[6,4]},"encoding":{"x":{"field":"x","type":"quantitative","scale":{"domain":[0,1.318],"nice":false,"zero":false},"axis":null},"y":{"field":"y","type":"quantitative","scale":{"domain":[-3.86,25.2],"nice":false,"zero":false},"axis":null}}},
{"data":{"values":[{}]},"mark":{"type":"rule","color":"#000","strokeWidth":1},"encoding":{"y":{"datum":0,"type":"quantitative","scale":{"domain":[-3.86,25.2],"nice":false,"zero":false},"axis":null}}},
{"data":{"name":"pts"},"transform":[{"filter":"datum.p=='BL'"}],"mark":{"type":"rule","color":"#000","strokeWidth":1.5,"clip":true},"encoding":{"x":{"field":"x","type":"quantitative","scale":{"domain":[0,1.318],"nice":false,"zero":false},"axis":null},"y":{"field":"lo","type":"quantitative","scale":{"domain":[-3.86,25.2],"nice":false,"zero":false},"axis":null},"y2":{"field":"hi"}}},
{"data":{"name":"pts"},"transform":[{"filter":"datum.p=='BL'"}],"mark":{"type":"point","filled":true,"color":"#000","opacity":1,"size":36,"clip":true},"encoding":{"x":{"field":"x","type":"quantitative","scale":{"domain":[0,1.318],"nice":false,"zero":false},"axis":null},"y":{"field":"y","type":"quantitative","scale":{"domain":[-3.86,25.2],"nice":false,"zero":false},"axis":null}}},
{"data":{"name":"pts"},"transform":[{"filter":"false"}],"mark":{"type":"point","filled":true,"opacity":1},"encoding":{"x":{"field":"x","type":"quantitative","scale":{"domain":[0,1.318],"nice":false,"zero":false},"axis":null},"y":{"field":"y","type":"quantitative","scale":{"domain":[-3.86,25.2],"nice":false,"zero":false},"axis":null},"color":{"field":"p","type":"nominal","scale":{"domain":["Data","σₛₘ(H→γγ) from LHC Higgs XS WG","aMC@NLO + XH","POWHEG HJ + XH","POWHEG + XH","POWHEG + XH, FW=5E⁻⁵ GeV⁻⁴","POWHEG + XH, FW=-5E⁻⁵ GeV⁻⁴","XH = VBF+VH+tt̄H"]},"legend":{"orient":"none","legendX":18.8,"legendY":28.5,"title":null}},"shape":{"field":"p","type":"nominal","scale":{"domain":["Data","σₛₘ(H→γγ) from LHC Higgs XS WG","aMC@NLO + XH","POWHEG HJ + XH","POWHEG + XH","POWHEG + XH, FW=5E⁻⁵ GeV⁻⁴","POWHEG + XH, FW=-5E⁻⁵ GeV⁻⁴","XH = VBF+VH+tt̄H"]},"legend":{"orient":"none","legendX":18.8,"legendY":28.5,"title":null}}}},
{"data":{"values":[{"t":"CMS"}]},"mark":{"type":"text","align":"left","baseline":"middle","fontSize":17,"fontWeight":"bold","font":"Liberation Sans"},"encoding":{"x":{"datum":0.05,"type":"quantitative","scale":{"domain":[0,1.318],"nice":false,"zero":false},"axis":null},"y":{"datum":23.55,"type":"quantitative","scale":{"domain":[-3.86,25.2],"nice":false,"zero":false},"axis":null},"text":{"field":"t"}}},
{"data":{"values":[{"t":"σ(|yᵞᵞ-½(yʲ¹+yʲ²)|>1.2)"}]},"mark":{"type":"text","align":"center","baseline":"middle","angle":270,"fontSize":10.5,"font":"Liberation Sans"},"encoding":{"x":{"datum":1.257,"type":"quantitative","scale":{"domain":[0,1.318],"nice":false,"zero":false},"axis":null},"y":{"datum":12.5,"type":"quantitative","scale":{"domain":[-3.86,25.2],"nice":false,"zero":false},"axis":null},"text":{"field":"t"}}}
]},
{"width":318,"height":80,"resolve":{"axis":{"x":"independent","y":"independent"}},"layer":[
{"data":{"name":"boxes"},"transform":[{"filter":"datum.p=='BLr'&&datum.m=='a'"}],"mark":{"type":"rect","color":"#ffc31a"},"encoding":{"x":{"field":"x1","type":"quantitative","scale":{"domain":[0,1.318],"nice":false,"zero":false},"axis":{"orient":"bottom","values":[0,0.5,1],"labelExpr":"''+datum.value","labelPadding":9,"title":"|yᵞᵞ-½(yʲ¹+yʲ²)|","titleFontSize":16,"titleAnchor":"end","titleY":36,"grid":true,"gridColor":"#000","gridWidth":1,"gridDash":[5,70,5]}},"x2":{"field":"x2"},"y":{"field":"lo","type":"quantitative","scale":{"domain":[-1.91,5],"nice":false,"zero":false},"axis":{"orient":"left","values":[0,2,4],"labelExpr":"''+datum.value","labelPadding":6,"title":"Ratio to POWHEG+XH","titleFontSize":13,"titleX":-36,"grid":true,"gridDash":[1.5,2],"gridColor":"#444","gridWidth":0.8}},"y2":{"field":"hi"}}},
{"data":{"name":"boxes"},"transform":[{"filter":"datum.p=='BLr'&&datum.m=='a'"}],"mark":{"type":"rule","color":"#f0701e","strokeWidth":2},"encoding":{"x":{"field":"x1","type":"quantitative","scale":{"domain":[0,1.318],"nice":false,"zero":false},"axis":null},"x2":{"field":"x2"},"y":{"field":"c","type":"quantitative","scale":{"domain":[-1.91,5],"nice":false,"zero":false},"axis":null}}},
{"data":{"name":"boxes"},"transform":[{"filter":"datum.p=='BLr'&&datum.m=='h'"}],"mark":{"type":"rect","fill":{"expr":"ghj"}},"encoding":{"x":{"field":"x1","type":"quantitative","scale":{"domain":[0,1.318],"nice":false,"zero":false},"axis":null},"x2":{"field":"x2"},"y":{"field":"lo","type":"quantitative","scale":{"domain":[-1.91,5],"nice":false,"zero":false},"axis":null},"y2":{"field":"hi"}}},
{"data":{"name":"boxes"},"transform":[{"filter":"datum.p=='BLr'&&datum.m=='h'"}],"mark":{"type":"rule","color":"#3aa0e6","strokeWidth":1.5,"strokeDash":[3,2]},"encoding":{"x":{"field":"x1","type":"quantitative","scale":{"domain":[0,1.318],"nice":false,"zero":false},"axis":null},"x2":{"field":"x2"},"y":{"field":"c","type":"quantitative","scale":{"domain":[-1.91,5],"nice":false,"zero":false},"axis":null}}},
{"data":{"name":"boxes"},"transform":[{"filter":"datum.p=='BLr'&&datum.m=='w'"}],"mark":{"type":"rect","fill":{"expr":"gpw"}},"encoding":{"x":{"field":"x1","type":"quantitative","scale":{"domain":[0,1.318],"nice":false,"zero":false},"axis":null},"x2":{"field":"x2"},"y":{"field":"lo","type":"quantitative","scale":{"domain":[-1.91,5],"nice":false,"zero":false},"axis":null},"y2":{"field":"hi"}}},
{"data":{"name":"boxes"},"transform":[{"filter":"datum.p=='BLr'&&datum.m=='w'"}],"mark":{"type":"rule","color":"#1f35c8","strokeWidth":1.5},"encoding":{"x":{"field":"x1","type":"quantitative","scale":{"domain":[0,1.318],"nice":false,"zero":false},"axis":null},"x2":{"field":"x2"},"y":{"field":"c","type":"quantitative","scale":{"domain":[-1.91,5],"nice":false,"zero":false},"axis":null}}},
{"data":{"name":"steps"},"transform":[{"filter":"datum.p=='BLr'&&datum.s=='G'"}],"mark":{"type":"line","interpolate":"step-after","color":"#55bb22","strokeWidth":1.5,"strokeDash":[7,3,1.5,3]},"encoding":{"x":{"field":"x","type":"quantitative","scale":{"domain":[0,1.318],"nice":false,"zero":false},"axis":null},"y":{"field":"y","type":"quantitative","scale":{"domain":[-1.91,5],"nice":false,"zero":false},"axis":null}}},
{"data":{"name":"steps"},"transform":[{"filter":"datum.p=='BLr'&&datum.s=='P'"}],"mark":{"type":"line","interpolate":"step-after","color":"#a64bdc","strokeWidth":1.5,"strokeDash":[6,4]},"encoding":{"x":{"field":"x","type":"quantitative","scale":{"domain":[0,1.318],"nice":false,"zero":false},"axis":null},"y":{"field":"y","type":"quantitative","scale":{"domain":[-1.91,5],"nice":false,"zero":false},"axis":null}}},
{"data":{"name":"pts"},"transform":[{"filter":"datum.p=='BLr'"}],"mark":{"type":"rule","color":"#000","strokeWidth":1.5,"clip":true},"encoding":{"x":{"field":"x","type":"quantitative","scale":{"domain":[0,1.318],"nice":false,"zero":false},"axis":null},"y":{"field":"lo","type":"quantitative","scale":{"domain":[-1.91,5],"nice":false,"zero":false},"axis":null},"y2":{"field":"hi"}}},
{"data":{"name":"pts"},"transform":[{"filter":"datum.p=='BLr'"}],"mark":{"type":"point","filled":true,"color":"#000","opacity":1,"size":36,"clip":true},"encoding":{"x":{"field":"x","type":"quantitative","scale":{"domain":[0,1.318],"nice":false,"zero":false},"axis":null},"y":{"field":"y","type":"quantitative","scale":{"domain":[-1.91,5],"nice":false,"zero":false},"axis":null}}}
]}
],"spacing":25,"bounds":"flush","resolve":{"scale":{"x":"independent","y":"independent","color":"independent","shape":"independent"}}},
{"vconcat":[
{"width":318,"height":308,"title":{"text":"19.7fb⁻¹ (8TeV)"},"resolve":{"axis":{"x":"independent","y":"independent"}},"layer":[
{"data":{"name":"boxes"},"transform":[{"filter":"datum.p=='BR'&&datum.m=='a'"}],"mark":{"type":"rect","color":"#ffc31a"},"encoding":{"x":{"field":"x1","type":"quantitative","scale":{"domain":[2.7986,3.1508],"nice":false,"zero":false},"axis":{"orient":"bottom","values":[2.8,2.9,3,3.1],"labelExpr":"datum.value<2.85?'0':''+datum.value","labelPadding":2.5,"title":null,"grid":true,"gridColor":"#000","gridWidth":1,"gridDash":[9,290,9]}},"x2":{"field":"x2"},"y":{"field":"lo","type":"quantitative","scale":{"domain":[-29.4,135.5],"nice":false,"zero":false},"axis":{"orient":"left","values":[-20,0,20,40,60,80,100,120],"labelExpr":"''+datum.value","labelPadding":4,"title":"dσ/dΔφᵞᵞ,ʲʲ [fb/rad]","titleAnchor":"end","titleX":-44,"grid":true,"gridColor":"#000","gridWidth":1,"gridDash":[9,300,9]}},"y2":{"field":"hi"}}},
{"data":{"name":"steps"},"transform":[{"filter":"datum.p=='BR'&&datum.s=='X'"}],"mark":{"type":"area","interpolate":"step-after","color":"#cdd2d0","line":{"color":"#8a8f8d","strokeWidth":1.5}},"encoding":{"x":{"field":"x","type":"quantitative","scale":{"domain":[2.7986,3.1508],"nice":false,"zero":false},"axis":null},"y":{"field":"y","type":"quantitative","scale":{"domain":[-29.4,135.5],"nice":false,"zero":false},"axis":null},"y2":{"datum":0}}},
{"data":{"name":"boxes"},"transform":[{"filter":"datum.p=='BR'&&datum.m=='a'"}],"mark":{"type":"rule","color":"#f0701e","strokeWidth":2},"encoding":{"x":{"field":"x1","type":"quantitative","scale":{"domain":[2.7986,3.1508],"nice":false,"zero":false},"axis":null},"x2":{"field":"x2"},"y":{"field":"c","type":"quantitative","scale":{"domain":[-29.4,135.5],"nice":false,"zero":false},"axis":null}}},
{"data":{"name":"boxes"},"transform":[{"filter":"datum.p=='BR'&&datum.m=='h'"}],"mark":{"type":"rect","fill":{"expr":"ghj"}},"encoding":{"x":{"field":"x1","type":"quantitative","scale":{"domain":[2.7986,3.1508],"nice":false,"zero":false},"axis":null},"x2":{"field":"x2"},"y":{"field":"lo","type":"quantitative","scale":{"domain":[-29.4,135.5],"nice":false,"zero":false},"axis":null},"y2":{"field":"hi"}}},
{"data":{"name":"boxes"},"transform":[{"filter":"datum.p=='BR'&&datum.m=='h'"}],"mark":{"type":"rule","color":"#3aa0e6","strokeWidth":1.5,"strokeDash":[3,2]},"encoding":{"x":{"field":"x1","type":"quantitative","scale":{"domain":[2.7986,3.1508],"nice":false,"zero":false},"axis":null},"x2":{"field":"x2"},"y":{"field":"c","type":"quantitative","scale":{"domain":[-29.4,135.5],"nice":false,"zero":false},"axis":null}}},
{"data":{"name":"boxes"},"transform":[{"filter":"datum.p=='BR'&&datum.m=='w'"}],"mark":{"type":"rect","fill":{"expr":"gpw"}},"encoding":{"x":{"field":"x1","type":"quantitative","scale":{"domain":[2.7986,3.1508],"nice":false,"zero":false},"axis":null},"x2":{"field":"x2"},"y":{"field":"lo","type":"quantitative","scale":{"domain":[-29.4,135.5],"nice":false,"zero":false},"axis":null},"y2":{"field":"hi"}}},
{"data":{"name":"boxes"},"transform":[{"filter":"datum.p=='BR'&&datum.m=='w'"}],"mark":{"type":"rule","color":"#1f35c8","strokeWidth":1.5},"encoding":{"x":{"field":"x1","type":"quantitative","scale":{"domain":[2.7986,3.1508],"nice":false,"zero":false},"axis":null},"x2":{"field":"x2"},"y":{"field":"c","type":"quantitative","scale":{"domain":[-29.4,135.5],"nice":false,"zero":false},"axis":null}}},
{"data":{"name":"steps"},"transform":[{"filter":"datum.p=='BR'&&datum.s=='G'"}],"mark":{"type":"line","interpolate":"step-after","color":"#55bb22","strokeWidth":1.5,"strokeDash":[7,3,1.5,3]},"encoding":{"x":{"field":"x","type":"quantitative","scale":{"domain":[2.7986,3.1508],"nice":false,"zero":false},"axis":null},"y":{"field":"y","type":"quantitative","scale":{"domain":[-29.4,135.5],"nice":false,"zero":false},"axis":null}}},
{"data":{"name":"steps"},"transform":[{"filter":"datum.p=='BR'&&datum.s=='P'"}],"mark":{"type":"line","interpolate":"step-after","color":"#a64bdc","strokeWidth":1.5,"strokeDash":[6,4]},"encoding":{"x":{"field":"x","type":"quantitative","scale":{"domain":[2.7986,3.1508],"nice":false,"zero":false},"axis":null},"y":{"field":"y","type":"quantitative","scale":{"domain":[-29.4,135.5],"nice":false,"zero":false},"axis":null}}},
{"data":{"values":[{}]},"mark":{"type":"rule","color":"#000","strokeWidth":1},"encoding":{"y":{"datum":0,"type":"quantitative","scale":{"domain":[-29.4,135.5],"nice":false,"zero":false},"axis":null}}},
{"data":{"name":"pts"},"transform":[{"filter":"datum.p=='BR'"}],"mark":{"type":"rule","color":"#000","strokeWidth":1.5,"clip":true},"encoding":{"x":{"field":"x","type":"quantitative","scale":{"domain":[2.7986,3.1508],"nice":false,"zero":false},"axis":null},"y":{"field":"lo","type":"quantitative","scale":{"domain":[-29.4,135.5],"nice":false,"zero":false},"axis":null},"y2":{"field":"hi"}}},
{"data":{"name":"pts"},"transform":[{"filter":"datum.p=='BR'"}],"mark":{"type":"point","filled":true,"color":"#000","opacity":1,"size":36,"clip":true},"encoding":{"x":{"field":"x","type":"quantitative","scale":{"domain":[2.7986,3.1508],"nice":false,"zero":false},"axis":null},"y":{"field":"y","type":"quantitative","scale":{"domain":[-29.4,135.5],"nice":false,"zero":false},"axis":null}}},
{"data":{"name":"pts"},"transform":[{"filter":"false"}],"mark":{"type":"point","filled":true,"opacity":1},"encoding":{"x":{"field":"x","type":"quantitative","scale":{"domain":[2.7986,3.1508],"nice":false,"zero":false},"axis":null},"y":{"field":"y","type":"quantitative","scale":{"domain":[-29.4,135.5],"nice":false,"zero":false},"axis":null},"color":{"field":"p","type":"nominal","scale":{"domain":["Data","σₛₘ(H→γγ) from LHC Higgs XS WG","aMC@NLO + XH","POWHEG HJ + XH","POWHEG + XH","POWHEG + XH, FW=5E⁻⁵ GeV⁻⁴","POWHEG + XH, FW=-5E⁻⁵ GeV⁻⁴","XH = VBF+VH+tt̄H"]},"legend":{"orient":"none","legendX":15.8,"legendY":35.5,"title":null}},"shape":{"field":"p","type":"nominal","scale":{"domain":["Data","σₛₘ(H→γγ) from LHC Higgs XS WG","aMC@NLO + XH","POWHEG HJ + XH","POWHEG + XH","POWHEG + XH, FW=5E⁻⁵ GeV⁻⁴","POWHEG + XH, FW=-5E⁻⁵ GeV⁻⁴","XH = VBF+VH+tt̄H"]},"legend":{"orient":"none","legendX":15.8,"legendY":35.5,"title":null}}}},
{"data":{"values":[{"t":"CMS"}]},"mark":{"type":"text","align":"left","baseline":"middle","fontSize":17,"fontWeight":"bold","font":"Liberation Sans"},"encoding":{"x":{"datum":2.8137,"type":"quantitative","scale":{"domain":[2.7986,3.1508],"nice":false,"zero":false},"axis":null},"y":{"datum":126.3,"type":"quantitative","scale":{"domain":[-29.4,135.5],"nice":false,"zero":false},"axis":null},"text":{"field":"t"}}},
{"data":{"values":[{"t":"//"}]},"mark":{"type":"text","align":"center","baseline":"middle","fontSize":11,"font":"Liberation Sans"},"encoding":{"x":{"datum":2.829,"type":"quantitative","scale":{"domain":[2.7986,3.1508],"nice":false,"zero":false},"axis":null},"y":{"datum":-29.4,"type":"quantitative","scale":{"domain":[-29.4,135.5],"nice":false,"zero":false},"axis":null},"text":{"field":"t"}}}
]},
{"width":318,"height":80,"resolve":{"axis":{"x":"independent","y":"independent"}},"layer":[
{"data":{"name":"boxes"},"transform":[{"filter":"datum.p=='BRr'&&datum.m=='a'"}],"mark":{"type":"rect","color":"#ffc31a"},"encoding":{"x":{"field":"x1","type":"quantitative","scale":{"domain":[2.7986,3.1508],"nice":false,"zero":false},"axis":{"orient":"bottom","values":[2.8,2.9,3,3.1],"labelExpr":"datum.value<2.85?'0':''+datum.value","labelPadding":9,"title":"Δφᵞᵞ,ʲʲ [rad]","titleFontSize":16,"titleAnchor":"end","titleY":36,"grid":true,"gridColor":"#000","gridWidth":1,"gridDash":[5,70,5]}},"x2":{"field":"x2"},"y":{"field":"lo","type":"quantitative","scale":{"domain":[-2.97,7.93],"nice":false,"zero":false},"axis":{"orient":"left","values":[0,5],"labelExpr":"''+datum.value","labelPadding":6,"title":"Ratio to POWHEG+XH","titleFontSize":13,"titleX":-46,"grid":true,"gridDash":[1.5,2],"gridColor":"#444","gridWidth":0.8}},"y2":{"field":"hi"}}},
{"data":{"name":"boxes"},"transform":[{"filter":"datum.p=='BRr'&&datum.m=='a'"}],"mark":{"type":"rule","color":"#f0701e","strokeWidth":2},"encoding":{"x":{"field":"x1","type":"quantitative","scale":{"domain":[2.7986,3.1508],"nice":false,"zero":false},"axis":null},"x2":{"field":"x2"},"y":{"field":"c","type":"quantitative","scale":{"domain":[-2.97,7.93],"nice":false,"zero":false},"axis":null}}},
{"data":{"name":"boxes"},"transform":[{"filter":"datum.p=='BRr'&&datum.m=='h'"}],"mark":{"type":"rect","fill":{"expr":"ghj"}},"encoding":{"x":{"field":"x1","type":"quantitative","scale":{"domain":[2.7986,3.1508],"nice":false,"zero":false},"axis":null},"x2":{"field":"x2"},"y":{"field":"lo","type":"quantitative","scale":{"domain":[-2.97,7.93],"nice":false,"zero":false},"axis":null},"y2":{"field":"hi"}}},
{"data":{"name":"boxes"},"transform":[{"filter":"datum.p=='BRr'&&datum.m=='h'"}],"mark":{"type":"rule","color":"#3aa0e6","strokeWidth":1.5,"strokeDash":[3,2]},"encoding":{"x":{"field":"x1","type":"quantitative","scale":{"domain":[2.7986,3.1508],"nice":false,"zero":false},"axis":null},"x2":{"field":"x2"},"y":{"field":"c","type":"quantitative","scale":{"domain":[-2.97,7.93],"nice":false,"zero":false},"axis":null}}},
{"data":{"name":"boxes"},"transform":[{"filter":"datum.p=='BRr'&&datum.m=='w'"}],"mark":{"type":"rect","fill":{"expr":"gpw"}},"encoding":{"x":{"field":"x1","type":"quantitative","scale":{"domain":[2.7986,3.1508],"nice":false,"zero":false},"axis":null},"x2":{"field":"x2"},"y":{"field":"lo","type":"quantitative","scale":{"domain":[-2.97,7.93],"nice":false,"zero":false},"axis":null},"y2":{"field":"hi"}}},
{"data":{"name":"boxes"},"transform":[{"filter":"datum.p=='BRr'&&datum.m=='w'"}],"mark":{"type":"rule","color":"#1f35c8","strokeWidth":1.5},"encoding":{"x":{"field":"x1","type":"quantitative","scale":{"domain":[2.7986,3.1508],"nice":false,"zero":false},"axis":null},"x2":{"field":"x2"},"y":{"field":"c","type":"quantitative","scale":{"domain":[-2.97,7.93],"nice":false,"zero":false},"axis":null}}},
{"data":{"name":"steps"},"transform":[{"filter":"datum.p=='BRr'&&datum.s=='G'"}],"mark":{"type":"line","interpolate":"step-after","color":"#55bb22","strokeWidth":1.5,"strokeDash":[7,3,1.5,3]},"encoding":{"x":{"field":"x","type":"quantitative","scale":{"domain":[2.7986,3.1508],"nice":false,"zero":false},"axis":null},"y":{"field":"y","type":"quantitative","scale":{"domain":[-2.97,7.93],"nice":false,"zero":false},"axis":null}}},
{"data":{"name":"steps"},"transform":[{"filter":"datum.p=='BRr'&&datum.s=='P'"}],"mark":{"type":"line","interpolate":"step-after","color":"#a64bdc","strokeWidth":1.5,"strokeDash":[6,4]},"encoding":{"x":{"field":"x","type":"quantitative","scale":{"domain":[2.7986,3.1508],"nice":false,"zero":false},"axis":null},"y":{"field":"y","type":"quantitative","scale":{"domain":[-2.97,7.93],"nice":false,"zero":false},"axis":null}}},
{"data":{"name":"pts"},"transform":[{"filter":"datum.p=='BRr'"}],"mark":{"type":"rule","color":"#000","strokeWidth":1.5,"clip":true},"encoding":{"x":{"field":"x","type":"quantitative","scale":{"domain":[2.7986,3.1508],"nice":false,"zero":false},"axis":null},"y":{"field":"lo","type":"quantitative","scale":{"domain":[-2.97,7.93],"nice":false,"zero":false},"axis":null},"y2":{"field":"hi"}}},
{"data":{"name":"pts"},"transform":[{"filter":"datum.p=='BRr'"}],"mark":{"type":"point","filled":true,"color":"#000","opacity":1,"size":36,"clip":true},"encoding":{"x":{"field":"x","type":"quantitative","scale":{"domain":[2.7986,3.1508],"nice":false,"zero":false},"axis":null},"y":{"field":"y","type":"quantitative","scale":{"domain":[-2.97,7.93],"nice":false,"zero":false},"axis":null}}},
{"data":{"values":[{"t":"//"}]},"mark":{"type":"text","align":"center","baseline":"middle","fontSize":11,"font":"Liberation Sans"},"encoding":{"x":{"datum":2.829,"type":"quantitative","scale":{"domain":[2.7986,3.1508],"nice":false,"zero":false},"axis":null},"y":{"datum":-2.97,"type":"quantitative","scale":{"domain":[-2.97,7.93],"nice":false,"zero":false},"axis":null},"text":{"field":"t"}}}
]}
],"spacing":25,"bounds":"flush","resolve":{"scale":{"x":"independent","y":"independent","color":"independent","shape":"independent"}}}
],"spacing":26,"resolve":{"scale":{"x":"independent","y":"independent","color":"independent","shape":"independent"}}}
]
}
